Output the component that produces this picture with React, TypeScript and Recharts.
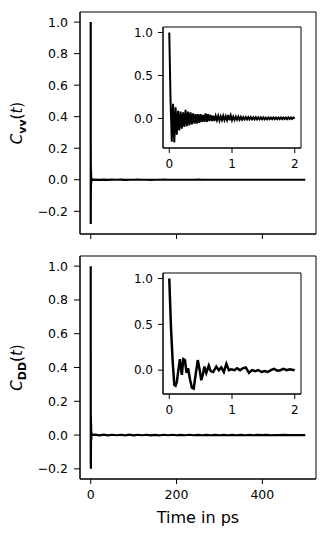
import React from 'react';
import { LineChart, Line, XAxis, YAxis, Label, ReferenceArea } from 'recharts';

// sampling step of C_vv in the first 2 ps (ps)
const VV_DT = 0.02;
// sampling step of the long tails (ps)
const TAIL_DT = 10;

// C_vv(t), 0 .. 2 ps
const vvShort = [
  1.0, 0.22, -0.27, 0.17, -0.28, 0.13, -0.19, 0.09, -0.14, 0.08,
  -0.12, 0.07, -0.1, 0.1, -0.09, 0.08, -0.08, 0.07, -0.07, 0.06,
  -0.06, 0.05, -0.06, 0.05, -0.05, 0.05, -0.04, 0.04, -0.04, 0.06,
  -0.04, 0.05, -0.03, 0.04, -0.03, 0.03, -0.03, 0.03, -0.02, 0.03,
  -0.025, 0.025, -0.02, 0.03, -0.02, 0.025, -0.02, 0.04, -0.02, 0.035,
  -0.02, 0.02, -0.018, 0.02, -0.015, 0.02, -0.015, 0.018, -0.015, 0.015,
  -0.012, 0.015, -0.012, 0.015, -0.012, 0.015, -0.01, 0.012, -0.01, 0.015,
  -0.01, 0.012, -0.01, 0.012, -0.01, 0.012, -0.01, 0.01, -0.01, 0.012,
  -0.008, 0.01, -0.008, 0.012, -0.008, 0.01, -0.008, 0.01, -0.008, 0.012,
  -0.008, 0.01, -0.006, 0.01, -0.008, 0.012, -0.006, 0.01, -0.006, 0.01,
  0.0,
];

// C_vv(t), 10 .. 500 ps
const vvTail = [
  0.001, -0.0005, 0.0005, -0.0005, 0.0005, 0.0, 0.0005, -0.0005, 0.0, 0.0,
  0.0005, 0.0, 0.0, -0.0005, 0.0, 0.0, 0.0005, 0.0, 0.0, 0.0,
  0.0, 0.0, 0.0, 0.0, 0.0005, 0.0, 0.0, 0.0, 0.0, 0.0,
  0.0, 0.0, 0.0, 0.0, 0.0, 0.0, 0.0, 0.0, 0.0, 0.0,
  0.0, 0.0, 0.0, 0.0, 0.0, 0.0, 0.0, 0.0, 0.0, 0.0,
];

// C_DD(t), 0 .. 2 ps
const ddTimes = [
  0, 0.027, 0.053, 0.08, 0.1, 0.12, 0.145, 0.17, 0.2, 0.225,
  0.25, 0.275, 0.3, 0.33, 0.36, 0.39, 0.42, 0.455, 0.485, 0.51,
  0.535, 0.56, 0.59, 0.63, 0.66, 0.7, 0.75, 0.79, 0.83, 0.87,
  0.91, 0.95, 0.99, 1.04, 1.08, 1.13, 1.17, 1.22, 1.27, 1.32,
  1.37, 1.42, 1.47, 1.52, 1.57, 1.62, 1.67, 1.72, 1.77, 1.82,
  1.87, 1.92, 1.96, 2.0,
];
const ddShort = [
  1.0, 0.47, 0.11, -0.16, -0.17, -0.13, 0.0, 0.12, -0.05, 0.12,
  0.11, -0.03, 0.02, -0.1, -0.19, -0.2, -0.05, 0.11, 0.0, -0.11,
  -0.05, 0.04, -0.03, 0.05, -0.01, -0.02, 0.04, 0.0, 0.03, -0.02,
  0.07, 0.0, 0.01, 0.0, 0.02, 0.0, 0.02, 0.03, -0.03, 0.0,
  -0.01, 0.0, -0.02, -0.01, -0.02, 0.0, 0.015, -0.005, 0.0, 0.015,
  0.0, 0.01, 0.005, 0.0,
];

// C_DD(t), 10 .. 500 ps
const ddTail = [
  0.003, -0.002, 0.002, -0.002, 0.002, -0.001, 0.002, -0.002, 0.002, -0.002,
  0.002, -0.001, 0.002, -0.002, 0.001, -0.002, 0.002, -0.001, 0.002, -0.001,
  0.001, -0.001, 0.002, -0.001, 0.001, -0.001, 0.001, -0.001, 0.001, -0.001,
  0.001, -0.001, 0.001, -0.001, 0.001, -0.001, 0.001, -0.001, 0.001, 0.0,
  0.001, -0.001, 0.0, 0.0, 0.001, 0.0, 0.0, 0.0, 0.0, 0.0,
];

const mainXTicks = [0, 200, 400];
const mainYTicks = [-0.2, 0, 0.2, 0.4, 0.6, 0.8, 1.0];
const insetXTicks = [0, 1, 2];
const insetYTicks = [0, 0.5, 1.0];

const vvInset = vvShort.map((v, i) => ({ t: i * VV_DT, v }));
const vvMain = [...vvInset, ...vvTail.map((v, i) => ({ t: (i + 1) * TAIL_DT, v }))];
const ddInset = ddShort.map((v, i) => ({ t: ddTimes[i], v }));
const ddMain = [...ddInset, ...ddTail.map((v, i) => ({ t: (i + 1) * TAIL_DT, v }))];

const FONT = '"DejaVu Sans", sans-serif';
const fmt1 = (v: number) => (v < 0 ? '\u2212' : '') + Math.abs(v).toFixed(1);
const fmt0 = (v: number) => String(v);

const YTitle = ({ viewBox, sub }: any) => {
  const vb = viewBox || { x: 0, y: 0, width: 80, height: 220 };
  const x = vb.x + 22;
  const y = vb.y + vb.height / 2;
  return (
    <text x={x} y={y} transform={`rotate(-90 ${x} ${y})`} textAnchor="middle" fontFamily={FONT} fontSize={15} fill="#000">
      <tspan fontStyle="italic">C</tspan>
      <tspan fontWeight="bold" fontSize={11} dy={3.5}>{sub}</tspan>
      <tspan dy={-3.5}>(</tspan>
      <tspan fontStyle="italic">t</tspan>
      <tspan>)</tspan>
    </text>
  );
};

const XTitle = ({ viewBox }: any) => {
  const vb = viewBox || { x: 80, y: 0, width: 236, height: 60 };
  return (
    <text x={vb.x + vb.width / 2} y={vb.y + 44} textAnchor="middle" fontFamily={FONT} fontSize={16} fill="#000">
      Time in ps
    </text>
  );
};

interface PanelProps {
  data: { t: number; v: number }[];
  yDomain: [number, number];
  sub: string;
  top: number;
  height: number;
  marginTop: number;
  xAxisHeight: number;
  showXLabels: boolean;
}

const MainPanel: React.FC<PanelProps> = ({ data, yDomain, sub, top, height, marginTop, xAxisHeight, showXLabels }) => (
  <div style={{ position: 'absolute', left: 0, top }}>
    <LineChart width={328} height={height} data={data} margin={{ top: marginTop, right: 12, left: 0, bottom: 0 }}>
      <XAxis
        dataKey="t"
        type="number"
        domain={[-25, 525]}
        ticks={mainXTicks}
        allowDataOverflow
        height={xAxisHeight}
        stroke="#000"
        tickSize={5}
        tickMargin={6}
        tick={{ fontSize: 12.5, fill: '#000', fontFamily: FONT }}
        tickFormatter={showXLabels ? fmt0 : () => ''}
      >
        {showXLabels && <Label content={(p: any) => <XTitle viewBox={p.viewBox} />} />}
      </XAxis>
      <YAxis
        type="number"
        domain={yDomain}
        ticks={mainYTicks}
        allowDataOverflow
        width={80}
        stroke="#000"
        tickSize={6}
        tickMargin={6}
        tick={{ fontSize: 12.5, fill: '#000', fontFamily: FONT }}
        tickFormatter={fmt1}
      >
        <Label content={(p: any) => <YTitle viewBox={p.viewBox} sub={sub} />} />
      </YAxis>
      <ReferenceArea x1={-25} x2={525} y1={yDomain[0]} y2={yDomain[1]} fill="none" stroke="#000" strokeWidth={1} ifOverflow="visible" />
      <Line type="linear" dataKey="v" stroke="#000" strokeWidth={2.2} dot={false} isAnimationActive={false} />
    </LineChart>
  </div>
);

interface InsetProps {
  data: { t: number; v: number }[];
  yDomain: [number, number];
  top: number;
  lineWidth: number;
}

const Inset: React.FC<InsetProps> = ({ data, yDomain, top, lineWidth }) => (
  <div style={{ position: 'absolute', left: 123, top }}>
    <LineChart width={182} height={152} data={data} margin={{ top: 5, right: 4, left: 0, bottom: 0 }}>
      <XAxis
        dataKey="t"
        type="number"
        domain={[-0.1, 2.1]}
        ticks={insetXTicks}
        allowDataOverflow
        height={26}
        stroke="#000"
        tickSize={5}
        tickMargin={6}
        tick={{ fontSize: 12, fill: '#000', fontFamily: FONT }}
        tickFormatter={fmt0}
      />
      <YAxis
        type="number"
        domain={yDomain}
        ticks={insetYTicks}
        allowDataOverflow
        width={40}
        stroke="#000"
        tickSize={5}
        tickMargin={5}
        tick={{ fontSize: 12, fill: '#000', fontFamily: FONT }}
        tickFormatter={fmt1}
      />
      <ReferenceArea x1={-0.1} x2={2.1} y1={yDomain[0]} y2={yDomain[1]} fill="none" stroke="#000" strokeWidth={1} ifOverflow="visible" />
      <Line type="linear" dataKey="v" stroke="#000" strokeWidth={lineWidth} dot={false} isAnimationActive={false} />
    </LineChart>
  </div>
);

export default function App() {
  return (
    <div style={{ position: 'absolute', left: 0, top: 0, width: 328, height: 539, background: '#fff' }}>
      <MainPanel data={vvMain} yDomain={[-0.344, 1.064]} sub="vv" top={0} height={250} marginTop={12} xAxisHeight={16} showXLabels={false} />
      <MainPanel data={ddMain} yDomain={[-0.26, 1.06]} sub="DD" top={240} height={299} marginTop={16} xAxisHeight={60} showXLabels />
      <Inset data={vvInset} yDomain={[-0.344, 1.064]} top={22} lineWidth={2} />
      <Inset data={ddInset} yDomain={[-0.26, 1.06]} top={268} lineWidth={2.5} />
    </div>
  );
}
